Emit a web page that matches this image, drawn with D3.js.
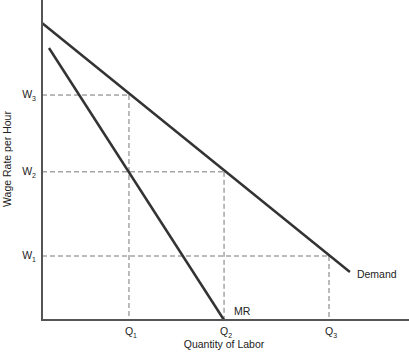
<!DOCTYPE html>
<html>
<head>
<meta charset="utf-8">
<script src="https://cdn.jsdelivr.net/npm/d3@7"></script>
<style>
  body { margin: 0; background: #fff; }
  svg { display: block; font-family: "Liberation Sans", Arial, sans-serif; }
</style>
</head>
<body>
<svg class="chart" width="409" height="354"></svg>
<script>
// quantities and wages (arbitrary units, 0-10)
const qLabels = ['Q1', 'Q2', 'Q3'];
const qValues = [2.37, 4.96, 7.82];
const wLabels = ['W1', 'W2', 'W3'];
const wValues = [2.0, 4.63, 7.03];
const demand = [[0, 9.28], [8.39, 1.5]];
const mr = [[0.19, 8.5], [4.96, 0]];

const svg = d3.select('.chart');
const x = d3.scaleLinear().domain([0, 10]).range([42, 409]);
const y = d3.scaleLinear().domain([0, 10]).range([320, 0]);

const line = d3.line().x(d => x(d[0])).y(d => y(d[1]));

// dashed guides: W3-Q1, W2-Q2, W1-Q3
const pairs = [[wValues[2], qValues[0]], [wValues[1], qValues[1]], [wValues[0], qValues[2]]];
const guides = svg.append('g')
    .attr('stroke', '#777')
    .attr('stroke-width', 1)
    .attr('stroke-dasharray', '5,3')
    .attr('fill', 'none');
pairs.forEach(([w, q]) => {
    guides.append('path').attr('d', line([[0, w], [q, w]]));
    guides.append('path').attr('d', line([[q, w], [q, 0]]));
});

// curves
svg.append('path').attr('d', line(demand))
    .attr('stroke', '#333').attr('stroke-width', 2.5).attr('fill', 'none');
svg.append('path').attr('d', line(mr))
    .attr('stroke', '#333').attr('stroke-width', 2.5).attr('fill', 'none');

// axes
svg.append('path').attr('d', line([[0, 10], [0, 0], [10, 0]]))
    .attr('stroke', '#555').attr('stroke-width', 2).attr('fill', 'none');

// subscript labels
function subLabel(sel, text, anchor) {
    const t = sel.append('text').attr('font-size', 10.5).attr('fill', '#222').attr('text-anchor', anchor);
    t.append('tspan').text(text[0]);
    t.append('tspan').attr('font-size', 7).attr('dy', 3).text(text.slice(1));
    return t;
}

wLabels.forEach((lab, i) => {
    subLabel(svg, lab, 'end').attr('x', x(0) - 6).attr('y', y(wValues[i]) + 3);
});
qLabels.forEach((lab, i) => {
    subLabel(svg, lab, 'middle').attr('x', x(qValues[i]) + 2).attr('y', 335);
});

svg.append('text').attr('x', x(mr[1][0]) + 10).attr('y', 315)
    .attr('font-size', 10.5).attr('fill', '#222').text('MR');
svg.append('text').attr('x', x(demand[1][0]) + 7).attr('y', y(demand[1][1]) + 6)
    .attr('font-size', 10.5).attr('fill', '#222').text('Demand');

svg.append('text').attr('x', 224).attr('y', 348)
    .attr('text-anchor', 'middle').attr('font-size', 10.5).attr('fill', '#222')
    .text('Quantity of Labor');
svg.append('text')
    .attr('transform', 'translate(11,159) rotate(-90)')
    .attr('text-anchor', 'middle').attr('font-size', 10.5).attr('fill', '#222')
    .text('Wage Rate per Hour');
</script>
</body>
</html>
